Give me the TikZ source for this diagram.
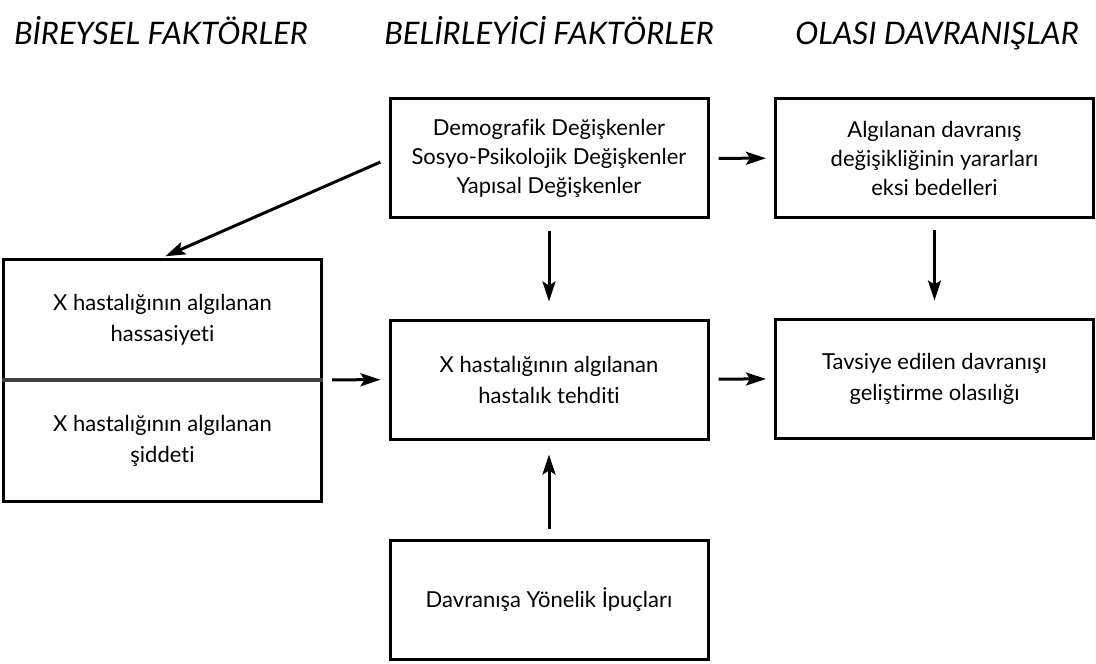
\documentclass[tikz,border=0pt]{standalone}
\usepackage{fontspec}
\setmainfont{Lato}[Ligatures=CommonOff]
\usepackage{tikz}
\usetikzlibrary{arrows.meta}
\tikzstyle{box} = [draw, line width=1.5pt, minimum width=159pt, minimum height=59.5pt, inner sep=0pt, align=center, font=\fontsize{11}{14.5}\selectfont]
\tikzstyle{txt} = [inner sep=0pt, align=center, font=\fontsize{11}{15.5}\selectfont]
\tikzstyle{head} = [anchor=base, inner sep=0pt, font=\fontsize{15.5}{17}\selectfont\itshape]
\tikzstyle{arr} = [-{Stealth[length=10pt, width=6.5pt, inset=2pt]}, line width=1.5pt, shorten >=4pt, shorten <=4.5pt]
\tikzstyle{divider} = [line width=1.6pt, black!75]

\begin{document}
\begin{tikzpicture}[x=0.5pt, y=-0.5pt]
    \useasboundingbox (0,0) rectangle (1096,663);
    % column headings
    \node[head] (h1) at (161,45) {BİREYSEL FAKTÖRLER};
    \node[head] (h2) at (549,45) {BELİRLEYİCİ FAKTÖRLER};
    \node[head] (h3) at (937,45) {OLASI DAVRANIŞLAR};
    % boxes
    \node[box] (demo) at (549,158.5) {Demografik Değişkenler\\Sosyo-Psikolojik Değişkenler\\Yapısal Değişkenler};
    \node[box] (yarar) at (934.5,158) {Algılanan davranış\\değişikliğinin yararları\\eksi bedelleri};
    \node[box, minimum height=121pt] (birey) at (162.5,380) {};
    \node[txt] (hassas) at (162.5,319.5) {X hastalığının algılanan\\hassasiyeti};
    \node[txt] (siddet) at (162.5,440.5) {X hastalığının algılanan\\şiddeti};
    \draw[divider] (birey.west) -- (birey.east);
    \node[box, font=\fontsize{11}{15.5}\selectfont] (tehdit) at (549,379.5) {X hastalığının algılanan\\hastalık tehditi};
    \node[box, font=\fontsize{11}{15.5}\selectfont] (tavsiye) at (934.5,378.5) {Tavsiye edilen davranışı\\geliştirme olasılığı};
    \node[box] (ipucu) at (549,600) {Davranışa Yönelik İpuçları};
    % arrows
    \draw[arr] (demo) -- (yarar);
    \draw[arr, shorten >=1.5pt] (demo.west) -- (birey.north);
    \draw[arr, shorten <=5.5pt, shorten >=8.5pt] (demo) -- (tehdit);
    \draw[arr, shorten <=5.5pt, shorten >=8.5pt] (yarar) -- (tavsiye);
    \draw[arr] (birey) -- (tehdit);
    \draw[arr] (tehdit) -- (tavsiye);
    \draw[arr, shorten <=5pt, shorten >=7pt] (ipucu) -- (tehdit);
\end{tikzpicture}
\end{document}
